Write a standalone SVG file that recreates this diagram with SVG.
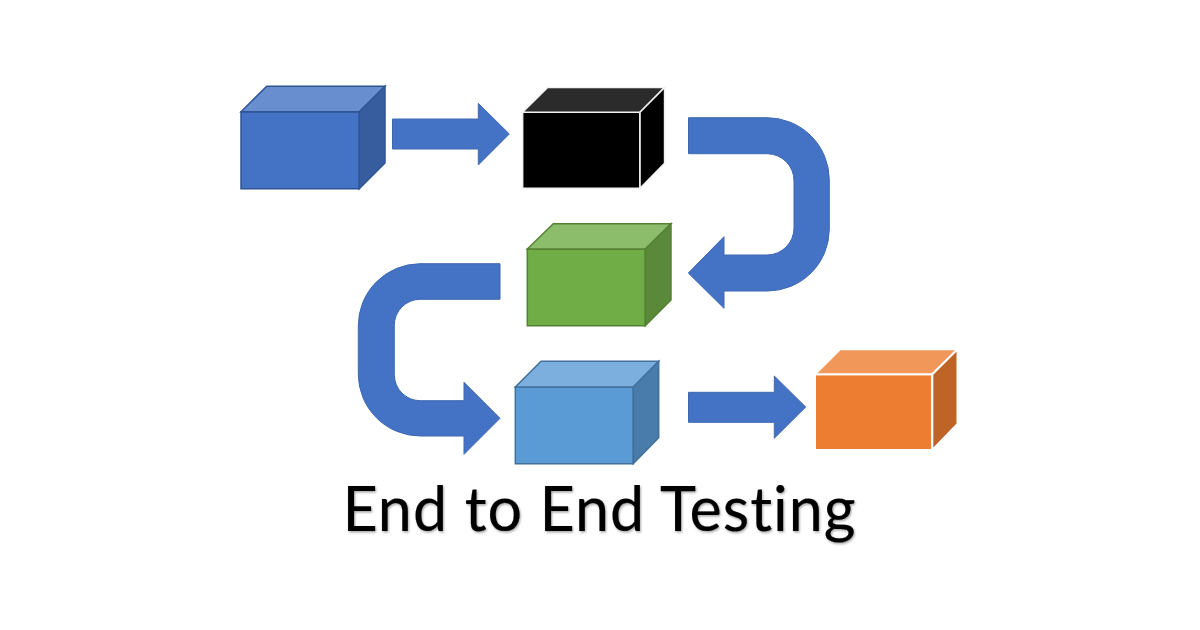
<svg xmlns="http://www.w3.org/2000/svg" width="1200" height="630" viewBox="0 0 1200 630">
<defs>
<filter id="soft" x="-5%" y="-20%" width="110%" height="140%"><feDropShadow dx="1" dy="1.5" stdDeviation="1.2" flood-color="#000" flood-opacity="0.35"/></filter>
</defs>
<style>
.arrow{fill:#4472c4;stroke:#3f68b2;stroke-width:1;stroke-linejoin:miter}
.box path{stroke-width:1.5;stroke-linejoin:miter}
.navy path{stroke:#2f5597}
.dark path{stroke:#f2f2f2;stroke-width:1.6}
.green path{stroke:#548235}
.sky path{stroke:#41719c}
.orange path{stroke:#fff;stroke-width:2}
.title{font-family:"Lato","Liberation Sans",sans-serif;font-size:61px;fill:#000;stroke:#000;stroke-width:0.2;font-variant-ligatures:none}
</style>
<rect width="1200" height="630" fill="#fff"/>
<g id="connectors">
<path class="arrow" d="M392.5 119H478.3V103.3L509.3 134L478.3 165V149H392.5Z"/>
<path class="arrow" d="M688.5 117.7H767A62.3 62.3 0 0 1 829.3 180V229A62 62 0 0 1 767.3 291H724V308.3L688.3 273L724 236.7V255H767A27 27 0 0 0 794 228V181A27 27 0 0 0 767 153.7H688.5Z"/>
<path class="arrow" d="M500 263.7H420A62 62 0 0 0 358.3 326V374A62 62 0 0 0 420.3 436H464V454.3L500 418.3L464 382.3V400.7H420.3A26 26 0 0 1 394.3 375V325.3A26 26 0 0 1 420.3 299.3H500Z"/>
<path class="arrow" d="M688.5 392.3H774.3V376L805.7 407L774.3 438.3V422.3H688.5Z"/>
</g>
<g id="box-blue" class="box navy">
<path fill="#4472c4" d="M241 111.7H359.3V188.7H241Z"/>
<path fill="#698ed0" d="M241 111.7L266.7 86.3H385L359.3 111.7Z"/>
<path fill="#375d9f" d="M359.3 111.7L385 86.3V163L359.3 188.7Z"/>
</g>
<g id="box-black" class="box dark">
<path fill="#000" d="M522.6 112.3H640V188.4H522.6Z"/>
<path fill="#2b2b2b" d="M522.6 112.3L547.6 87.5H664.6L640 112.3Z"/>
<path fill="#000" d="M640 112.3L664.6 87.5V163.3L640 188.4Z"/>
</g>
<g id="box-green" class="box green">
<path fill="#70ad47" d="M527.3 249H645.3V325.7H527.3Z"/>
<path fill="#8cbd6b" d="M527.3 249L553.3 223.7H671L645.3 249Z"/>
<path fill="#5a8a39" d="M645.3 249L671 223.7V300L645.3 325.7Z"/>
</g>
<g id="box-sky" class="box sky">
<path fill="#5b9bd5" d="M515.3 387H633.3V463.7H515.3Z"/>
<path fill="#7cafdd" d="M515.3 387L541 361.3H658.7L633.3 387Z"/>
<path fill="#497cab" d="M633.3 387L658.7 361.3V437.7L633.3 463.7Z"/>
</g>
<g id="box-orange" class="box orange">
<path fill="#ed7d31" d="M815 374.3H932.3V450H815Z"/>
<path fill="#f1975a" d="M815 374.3L840 349.3H957.5L932.3 374.3Z"/>
<path fill="#be6427" d="M932.3 374.3L957.5 349.3V424L932.3 450Z"/>
</g>
<text class="title" x="342.5" y="531" textLength="513" lengthAdjust="spacing" filter="url(#soft)">End to End Testing</text>
</svg>
